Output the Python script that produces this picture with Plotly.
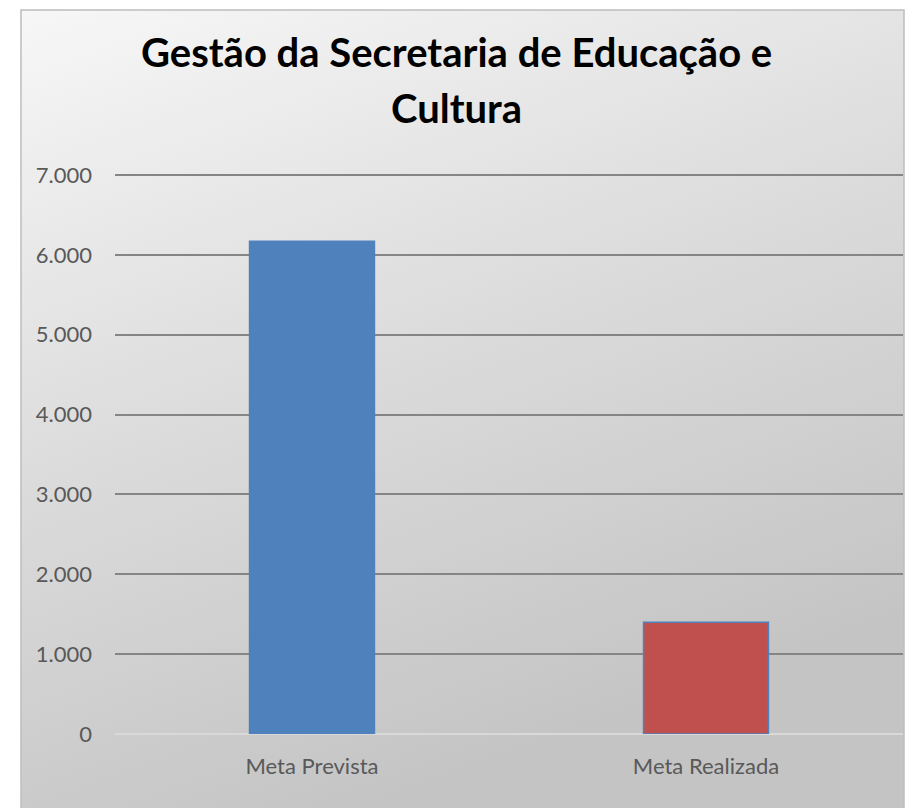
import base64
import plotly.graph_objects as go

categories = ["Meta Prevista", "Meta Realizada"]
values = [6170, 1400]
bar_colors = ["#4F81BD", "#C0504D"]
title_lines = ["Gestão da Secretaria de Educação e", "Cultura"]
tick_values = [0, 1000, 2000, 3000, 4000, 5000, 6000, 7000]

OFF = 8  # page body margin
W, H = 913 - OFF, 808 - OFF
Y_TOP = 7100
# page coordinates of plot area
pl, pr, p_zero, p_7000 = 115, 903, 734, 175
unit = (p_zero - p_7000) / 7000.0
p_top = p_zero - unit * Y_TOP
L = pl - OFF
R = W - (pr - OFF)
T = p_top - OFF
B = H - (p_zero - OFF)
pw = W - L - R
ph = H - T - B

def px2x(px):
    return (px - OFF - L) / pw

def py2y(py):
    return (H - B - (py - OFF)) / ph

svg = (
    '<svg xmlns="http://www.w3.org/2000/svg" width="100" height="100" preserveAspectRatio="none" viewBox="0 0 100 100">'
    '<defs><linearGradient id="g" x1="0" y1="0" x2="0.4" y2="1">'
    '<stop offset="0" stop-color="#F7F7F7"/>'
    '<stop offset="0.5" stop-color="#DCDCDC"/>'
    '<stop offset="1" stop-color="#C4C4C4"/>'
    '</linearGradient></defs>'
    '<rect x="0" y="0" width="100" height="100" fill="url(#g)"/></svg>'
)
src = "data:image/svg+xml;base64," + base64.b64encode(svg.encode()).decode()

bx0, bx1, by0, by1 = 21, 904, 10, 812

fig = go.Figure()
fig.add_trace(go.Bar(
    x=categories, y=values,
    marker=dict(color=bar_colors, line=dict(color="#4F81BD", width=1.5)),
    width=0.317,
    hoverinfo="x+y",
))

fig.add_layout_image(dict(
    source=src, xref="paper", yref="paper",
    x=px2x(bx0), y=py2y(by0),
    sizex=px2x(bx1) - px2x(bx0), sizey=py2y(by0) - py2y(by1),
    xanchor="left", yanchor="top", sizing="stretch", layer="below",
))
fig.add_shape(type="rect", xref="paper", yref="paper",
              x0=px2x(bx0), x1=px2x(bx1), y0=py2y(by1), y1=py2y(by0),
              line=dict(color="#BDBDBD", width=1.5), fillcolor="rgba(0,0,0,0)", layer="below")

for line_text, py in zip(title_lines, [52, 108]):
    fig.add_annotation(text="<b>" + line_text + "</b>", xref="paper", yref="paper",
                       x=px2x(456), y=py2y(py), xanchor="center", yanchor="middle",
                       showarrow=False,
                       font=dict(family="Lato", size=40, color="#000000"))

fig.update_layout(
    width=W, height=H,
    margin=dict(l=L, r=R, t=T, b=B),
    paper_bgcolor="white",
    plot_bgcolor="rgba(0,0,0,0)",
    separators=",.",
    font=dict(family="Lato", color="#595959", size=22),
    showlegend=False,
    bargap=0.683,
)
fig.update_yaxes(range=[0, Y_TOP], tickvals=tick_values, tickformat=",.0f",
                 showgrid=True, gridcolor="#858585", gridwidth=1.8,
                 zeroline=True, zerolinecolor="#D9D9D9", zerolinewidth=1.8,
                 showline=False, ticks="", ticklabelstandoff=22, fixedrange=True)
fig.update_xaxes(showgrid=False, showline=False, ticks="", ticklabelstandoff=17,
                 fixedrange=True)

fig.write_html("out.html")
